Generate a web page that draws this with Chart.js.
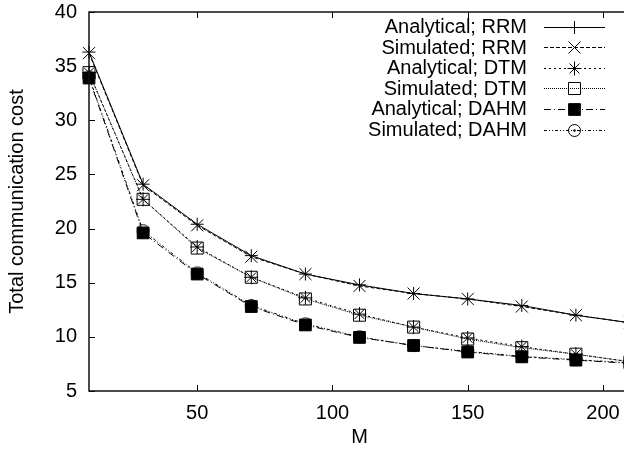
<!DOCTYPE html>
<html>
<head>
<meta charset="utf-8">
<script src="https://cdn.jsdelivr.net/npm/chart.js@4.4.1/dist/chart.umd.min.js"></script>
<style>
  html, body { margin: 0; padding: 0; background: #fff; overflow: hidden; }
  #clip { width: 624px; height: 456px; overflow: hidden; position: relative; }
  #wrap { width: 640px; height: 456px; position: absolute; left: 0; top: 0; }
</style>
</head>
<body>
<div id="clip"><div id="wrap"><canvas id="c"></canvas></div></div>
<script>
// ---- data ----
const M = [10, 30, 50, 70, 90, 110, 130, 150, 170, 190, 210];
const analyticalRRM  = [36.3, 24.1, 20.4, 17.5, 15.8, 14.8, 14.0, 13.5, 12.9, 12.0, 11.3];
const simulatedRRM   = [36.2, 24.0, 20.3, 17.4, 15.8, 14.7, 14.0, 13.5, 12.8, 12.0, 11.3];
const analyticalDTM  = [34.4, 22.7, 18.3, 15.5, 13.6, 12.1, 10.9, 9.9, 9.1, 8.4, 7.7];
const simulatedDTM   = [34.4, 22.7, 18.2, 15.5, 13.5, 12.0, 10.9, 9.8, 9.0, 8.4, 7.7];
const analyticalDAHM = [33.9, 19.6, 15.8, 12.8, 11.1, 9.95, 9.2, 8.6, 8.15, 7.85, 7.55];
const simulatedDAHM  = [34.0, 19.8, 15.9, 12.9, 11.2, 10.0, 9.2, 8.65, 8.2, 7.9, 7.6];
const seriesLabels = ['Analytical; RRM', 'Simulated; RRM', 'Analytical; DTM',
                      'Simulated; DTM', 'Analytical; DAHM', 'Simulated; DAHM'];
const xTicks = [50, 100, 150, 200];
const yTicks = [5, 10, 15, 20, 25, 30, 35, 40];
const xTitle = 'M';
const yTitle = 'Total communication cost';

// circle with centre dot marker
function circleDot() {
  const cv = document.createElement('canvas');
  cv.width = 15; cv.height = 15;
  const g = cv.getContext('2d');
  g.strokeStyle = '#000'; g.lineWidth = 1;
  g.beginPath(); g.arc(7.5, 7.5, 6, 0, Math.PI * 2); g.stroke();
  g.fillStyle = '#000';
  g.beginPath(); g.arc(7.5, 7.5, 1.2, 0, Math.PI * 2); g.fill();
  return cv;
}

const FONT = { family: "'Liberation Sans', Arial, sans-serif", size: 20 };
Chart.defaults.font.family = FONT.family;
Chart.defaults.font.size = FONT.size;
Chart.defaults.color = '#000';

function pts(arr) { return M.map((m, i) => ({ x: m, y: arr[i] })); }

const styles = [
  { data: analyticalRRM,  dash: [],              point: 'cross',    r: 6.5, fill: 'rgba(0,0,0,0)' },
  { data: simulatedRRM,   dash: [4, 2],          point: 'crossRot', r: 8.5, fill: 'rgba(0,0,0,0)' },
  { data: analyticalDTM,  dash: [2, 3],          point: 'star',     r: 7,   fill: 'rgba(0,0,0,0)' },
  { data: simulatedDTM,   dash: [1, 1],          point: 'rect',     r: 8.5, fill: 'rgba(0,0,0,0)' },
  { data: analyticalDAHM, dash: [7, 3, 1, 3],    point: 'rect',     r: 8.3, fill: '#000' },
  { data: simulatedDAHM,  dash: [3, 2, 1, 2, 1, 2], point: circleDot(), r: 7, fill: 'rgba(0,0,0,0)' }
];

const datasets = styles.map((s, i) => ({
  label: seriesLabels[i],
  data: pts(s.data),
  borderColor: '#000',
  borderWidth: 1,
  borderDash: s.dash,
  pointStyle: s.point,
  pointRadius: s.r,
  pointHoverRadius: s.r,
  pointBorderColor: '#000',
  pointBackgroundColor: s.fill,
  pointBorderWidth: 1,
  tension: 0,
  fill: false,
  clip: 12
}));

const framePlugin = {
  id: 'frame',
  afterDatasetsDraw(chart) {
    const { ctx, chartArea: a, scales } = chart;
    ctx.save();
    ctx.strokeStyle = '#000';
    ctx.lineWidth = 1;
    const tl = 6;
    ctx.beginPath();
    xTicks.forEach(v => {
      const x = Math.round(scales.x.getPixelForValue(v)) + 0.5;
      ctx.moveTo(x, a.bottom); ctx.lineTo(x, a.bottom - tl);
      ctx.moveTo(x, a.top); ctx.lineTo(x, a.top + tl);
    });
    yTicks.forEach(v => {
      const y = Math.round(scales.y.getPixelForValue(v)) + 0.5;
      ctx.moveTo(a.left, y); ctx.lineTo(a.left + tl, y);
      ctx.moveTo(a.right, y); ctx.lineTo(a.right - tl, y);
    });
    ctx.stroke();
    ctx.lineWidth = 1.5;
    ctx.strokeStyle = '#111';
    ctx.strokeRect(a.left, a.top, a.right - a.left, a.bottom - a.top);

    // gnuplot-style key
    ctx.font = FONT.size + 'px ' + FONT.family;
    ctx.textAlign = 'right';
    ctx.textBaseline = 'middle';
    ctx.fillStyle = '#000';
    chart.data.datasets.forEach((ds, i) => {
      const y = 26.5 + i * 20.6;
      ctx.fillText(ds.label, 527, y + 1);
      ctx.save();
      ctx.lineWidth = 1;
      ctx.strokeStyle = '#000';
      ctx.setLineDash(ds.borderDash);
      ctx.beginPath();
      ctx.moveTo(544, Math.round(y) + 0.5);
      ctx.lineTo(605, Math.round(y) + 0.5);
      ctx.stroke();
      ctx.setLineDash([]);
      ctx.fillStyle = ds.pointBackgroundColor;
      ctx.strokeStyle = '#000';
      Chart.helpers.drawPoint(ctx, { pointStyle: ds.pointStyle, radius: ds.pointRadius, borderWidth: 1, rotation: 0 }, 574.5, Math.round(y) + 0.5);
      ctx.restore();
    });
    ctx.restore();
  }
};

new Chart(document.getElementById('c'), {
  type: 'line',
  data: { datasets },
  options: {
    responsive: true,
    maintainAspectRatio: false,
    animation: false,
    events: [],
    layout: { padding: { left: 0, right: 10, top: 12, bottom: 0 } },
    plugins: { legend: { display: false }, tooltip: { enabled: false } },
    scales: {
      x: {
        type: 'linear',
        min: 10, max: 210,
        grid: { display: false, drawTicks: false },
        border: { display: false },
        afterBuildTicks: s => { s.ticks = xTicks.map(v => ({ value: v })); },
        afterFit: s => { s.height = 65; s.paddingLeft = 0; s.paddingRight = 0; },
        ticks: { padding: 10, maxRotation: 0, autoSkip: false, font: FONT },
        title: { display: true, text: xTitle, font: FONT, padding: { top: 0, bottom: 7 } }
      },
      y: {
        type: 'linear',
        min: 5, max: 40,
        grid: { display: false, drawTicks: false },
        border: { display: false },
        afterBuildTicks: s => { s.ticks = yTicks.map(v => ({ value: v })); },
        afterFit: s => { s.width = 89; s.paddingTop = 0; s.paddingBottom = 0; },
        ticks: { padding: 12, autoSkip: false, font: FONT },
        title: { display: true, text: yTitle, font: FONT, padding: { top: 5, bottom: 0 } }
      }
    }
  },
  plugins: [framePlugin]
});
</script>
</body>
</html>
